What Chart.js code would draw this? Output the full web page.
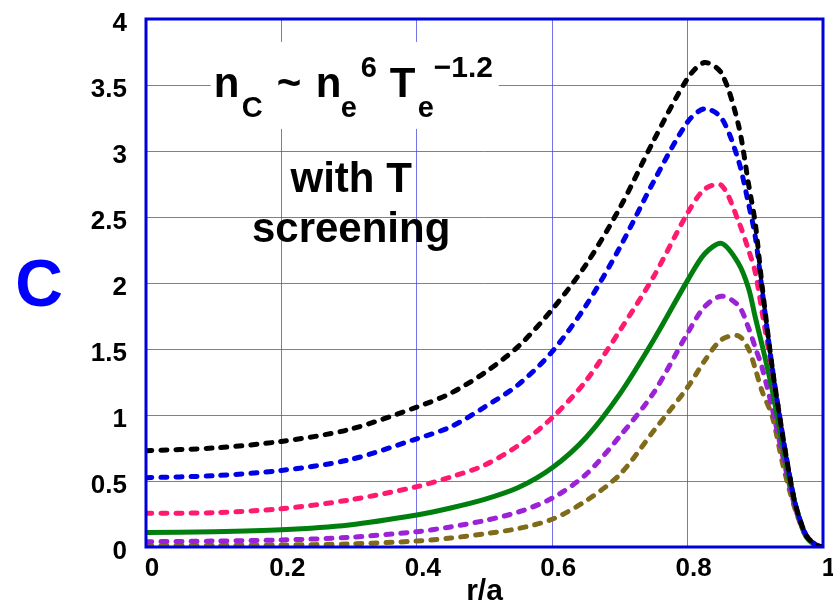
<!DOCTYPE html>
<html>
<head>
<meta charset="utf-8">
<script src="https://cdn.jsdelivr.net/npm/chart.js@4.4.1/dist/chart.umd.min.js"></script>
<style>
  html, body { margin: 0; padding: 0; background: #fff; }
  #wrap { width: 833px; height: 605px; }
</style>
</head>
<body>
<div id="wrap"><canvas id="myChart" width="833" height="605"></canvas></div>
<script>
// r/a positions shared by all curves
var rOverA = [0, 0.1, 0.2, 0.3, 0.4, 0.45, 0.5, 0.55, 0.6, 0.65, 0.7, 0.75, 0.8, 0.825, 0.85, 0.875, 0.89, 0.9, 0.91, 0.925, 0.94, 0.95, 0.96, 0.975, 0.99, 1.0]

var cBlack  = [0.73, 0.75, 0.80, 0.89, 1.06, 1.165, 1.32, 1.52, 1.80, 2.14, 2.57, 3.08, 3.55, 3.67, 3.59, 3.20, 2.75, 2.45, 1.98, 1.36, 0.86, 0.56, 0.31, 0.09, 0.015, 0]
var cBlue   = [0.525, 0.54, 0.58, 0.66, 0.82, 0.91, 1.06, 1.23, 1.48, 1.83, 2.27, 2.77, 3.22, 3.32, 3.25, 2.93, 2.60, 2.35, 1.95, 1.36, 0.86, 0.56, 0.31, 0.09, 0.015, 0]
var cPink   = [0.255, 0.26, 0.29, 0.356, 0.457, 0.53, 0.62, 0.77, 0.98, 1.26, 1.64, 2.05, 2.53, 2.71, 2.74, 2.47, 2.25, 2.08, 1.78, 1.33, 0.85, 0.55, 0.30, 0.09, 0.015, 0]
var cGreen  = [0.11, 0.115, 0.13, 0.167, 0.242, 0.295, 0.36, 0.45, 0.60, 0.83, 1.16, 1.57, 2.02, 2.22, 2.30, 2.15, 1.96, 1.74, 1.53, 1.19, 0.78, 0.52, 0.30, 0.08, 0.01, 0]
var cPurple = [0.04, 0.045, 0.053, 0.073, 0.116, 0.152, 0.20, 0.265, 0.37, 0.55, 0.84, 1.17, 1.62, 1.82, 1.90, 1.83, 1.66, 1.51, 1.36, 1.05, 0.70, 0.48, 0.28, 0.08, 0.01, 0]
var cOlive  = [0.01, 0.012, 0.015, 0.023, 0.045, 0.068, 0.10, 0.14, 0.21, 0.35, 0.55, 0.88, 1.21, 1.41, 1.57, 1.60, 1.50, 1.35, 1.18, 0.99, 0.64, 0.44, 0.27, 0.08, 0.01, 0]

var xTicks = [0, 0.2, 0.4, 0.6, 0.8, 1]
var yTicks = [0, 0.5, 1, 1.5, 2, 2.5, 3, 3.5, 4]

var FONT = "'Liberation Sans', Arial, Helvetica, sans-serif"
var frameBlue = "#0000d8"
var gridBlue = "rgba(70, 70, 225, 0.75)"

function pts(ys) {
    var out = []
    for (var i = 0; i < rOverA.length; i++) {
        out.push({ x: rOverA[i], y: ys[i] })
    }
    return out
}

function line(ys, color, dashed) {
    return {
        data: pts(ys),
        borderColor: color,
        backgroundColor: color,
        borderWidth: 5,
        borderDash: dashed ? [6, 9] : [],
        borderCapStyle: dashed ? 'round' : 'butt',
        pointRadius: 0,
        fill: false,
        tension: 0.3
    }
}

// white page, frame, and the text written on the plot
var decor = {
    id: 'decor',
    beforeDraw: function(chart) {
        var ctx = chart.ctx
        ctx.save()
        ctx.fillStyle = "#fff"
        ctx.fillRect(0, 0, chart.width, chart.height)
        ctx.restore()
    },
    beforeDatasetsDraw: function(chart) {
        var ctx = chart.ctx
        var xs = chart.scales.x
        var ys = chart.scales.y
        ctx.save()

        // formula box covers the grid
        var x0 = xs.getPixelForValue(0.1)
        var base = ys.getPixelForValue(3.41)
        ctx.fillStyle = "#fff"
        ctx.fillRect(x0 - 3, base - 55, 288, 87)

        ctx.fillStyle = "#000"
        ctx.textBaseline = "alphabetic"
        ctx.textAlign = "left"
        // text, size, x offset, baseline shift
        var parts = [
            ["n", 42, 0, 0], ["C", 29, 28, 20], ["~", 42, 63, 0], ["n", 42, 102, 0], ["e", 29, 127, 20],
            ["6", 29, 147, -20], ["T", 42, 176, 0], ["e", 29, 204, 20], ["\u22121.2", 30, 220, -20]
        ]
        for (var i = 0; i < parts.length; i++) {
            ctx.font = "bold " + parts[i][1] + "px " + FONT
            ctx.fillText(parts[i][0], x0 + parts[i][2], base + parts[i][3])
        }

        ctx.font = "bold 42px " + FONT
        ctx.textAlign = "center"
        var cx = xs.getPixelForValue(0.303)
        ctx.fillText("with T", cx, ys.getPixelForValue(2.69))
        ctx.fillText("screening", cx, ys.getPixelForValue(2.31))
        ctx.restore()
    },
    afterDatasetsDraw: function(chart) {
        var ctx = chart.ctx
        var a = chart.chartArea
        ctx.save()
        ctx.strokeStyle = frameBlue
        ctx.lineWidth = 3
        ctx.strokeRect(a.left, a.top, a.right - a.left, a.bottom - a.top)

        ctx.fillStyle = "#0000ff"
        ctx.font = "bold 66px " + FONT
        ctx.textAlign = "center"
        ctx.textBaseline = "middle"
        ctx.fillText("C", 39, chart.scales.y.getPixelForValue(1.96))
        ctx.restore()
    }
}

function plain(v) { return String(v) }

new Chart("myChart", {
    type: "line",
    data: {
        datasets: [
            line(cBlack, "#000000", true),
            line(cBlue, "#0000e6", true),
            line(cPink, "#ff1a70", true),
            line(cGreen, "#007f0e", false),
            line(cPurple, "#9b22d6", true),
            line(cOlive, "#7f6b1a", true)
        ]
    },
    options: {
        responsive: false,
        animation: false,
        layout: { padding: { top: 19, right: 10, left: 0, bottom: 0 } },
        plugins: {
            legend: { display: false },
            tooltip: { enabled: false }
        },
        scales: {
            x: {
                type: "linear",
                min: 0,
                max: 1,
                afterBuildTicks: function(scale) {
                    scale.ticks = xTicks.map(function(v) { return { value: v } })
                },
                afterFit: function(scale) {
                    scale.height = 58
                    scale.paddingLeft = 0
                    scale.paddingRight = 0
                },
                grid: { color: gridBlue, lineWidth: 1, drawTicks: false },
                border: { display: false },
                ticks: {
                    color: "#000",
                    font: { family: FONT, size: 26, weight: "bold" },
                    padding: 6,
                    labelOffset: 6,
                    maxRotation: 0,
                    callback: plain
                },
                title: {
                    display: true,
                    text: "r/a",
                    color: "#000",
                    font: { family: FONT, size: 30, weight: "bold" },
                    padding: { top: 2, bottom: -5 }
                }
            },
            y: {
                min: 0,
                max: 4,
                afterBuildTicks: function(scale) {
                    scale.ticks = yTicks.map(function(v) { return { value: v } })
                },
                afterFit: function(scale) {
                    scale.width = 146
                    scale.paddingTop = 0
                    scale.paddingBottom = 0
                },
                grid: { color: gridBlue, lineWidth: 1, drawTicks: false },
                border: { display: false },
                ticks: {
                    color: "#000",
                    font: { family: FONT, size: 26, weight: "bold" },
                    padding: 19,
                    labelOffset: 5,
                    callback: plain
                }
            }
        }
    },
    plugins: [decor]
});
</script>
</body>
</html>
